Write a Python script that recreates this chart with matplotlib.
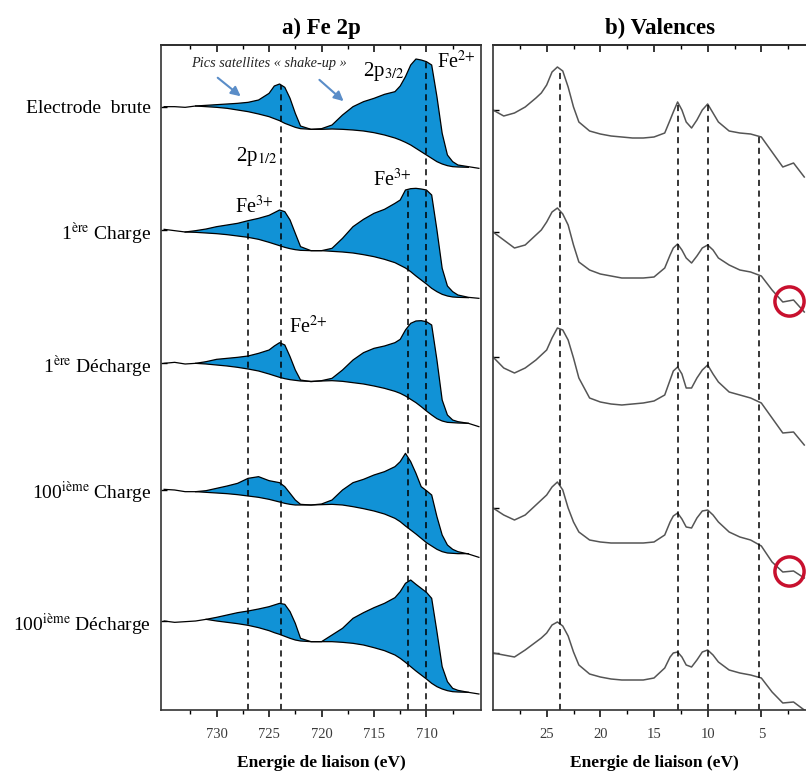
import numpy as np
import matplotlib
matplotlib.use("Agg")
import matplotlib.pyplot as plt
from matplotlib.ticker import FixedLocator

nan = np.nan

# ---- a) Fe 2p : binding energies (eV) and intensities (a.u., relative to each left tail)
FE_E = [735, 734, 733, 732, 731, 730, 729, 728, 727, 726,
        725, 724.5, 724, 723.5, 723, 722.5, 722,
        721, 720, 719, 718, 717, 716, 715, 714, 713,
        712.5, 712, 711.5, 711, 710.5, 710, 709.5, 709, 708.5, 708, 707.5, 707, 706, 705]

fe_brute = [0, 0, -2, 2, 4, 6, 8, 10, 13, 20,
            40, 62, 68, 58, 25, -20, -58,
            -68, -66, -55, -25, 0, 15, 25, 37, 45,
            62, 90, 125, 143, 140, 135, 125, 30, -80, -145, -165, -175, -180, -185]
bg_brute = [nan, nan, nan, 2, 0, -2, -5, -10, -15, -22,
            -30, -36, -42, -50, -56, -62, -66,
            -68, -68, -67, -68, -70, -73, -78, -85, -94,
            -100, -107, -115, -125, -135, -145, -155, -165, -172, -177, -180, -181, -182, nan]

fe_ch1 = [2, -2, -6, -2, 3, 10, 15, 20, 28, 35,
          44, 52, 60, 55, 30, -10, -50,
          -62, -62, -55, -25, 10, 32, 50, 62, 80,
          90, 120, 124, 125, 123, 120, 105, 0, -115, -168, -185, -195, -202, -205]
bg_ch1 = [nan, nan, -6, -7, -9, -11, -14, -18, -22, -28,
          -37, -42, -47, -52, -56, -59, -61,
          -62, -62, -64, -66, -69, -74, -80, -88, -98,
          -106, -114, -125, -138, -150, -162, -175, -185, -193, -198, -201, -202, -203, nan]

fe_dc1 = [0, 3, -2, 0, 5, 12, 15, 18, 22, 30,
          40, 52, 62, 55, 20, -20, -50,
          -55, -52, -45, -20, 10, 32, 45, 52, 62,
          72, 100, 120, 127, 128, 125, 115, 10, -110, -155, -170, -175, -180, -190]
bg_dc1 = [nan, nan, nan, 0, -2, -5, -8, -12, -17, -23,
          -32, -37, -42, -46, -49, -51, -53,
          -54, -53, -52, -54, -58, -62, -68, -75, -84,
          -90, -98, -108, -118, -130, -143, -155, -166, -173, -177, -178, -179, -180, nan]

fe_ch100 = [2, 0, -5, -5, -2, 5, 12, 20, 35, 40,
            28, 25, 22, 10, -10, -30, -43,
            -45, -42, -30, 0, 22, 32, 45, 55, 70,
            85, 110, 85, 50, 10, -2, -15, -80, -135, -165, -178, -185, -192, -202]
bg_ch100 = [nan, nan, nan, -5, -7, -9, -11, -14, -18, -22,
            -28, -32, -36, -40, -43, -45, -45,
            -45, -44, -43, -45, -50, -56, -63, -72, -85,
            -95, -108, -120, -132, -145, -158, -168, -178, -185, -189, -190, -191, -191, nan]

fe_dc100 = [0, -4, -2, 0, 5, 11, 18, 25, 30, 36,
            43, 48, 53, 50, 28, -7, -52,
            -62, -62, -42, -22, 8, 25, 40, 53, 70,
            88, 113, 123, 110, 98, 86, 68, -32, -137, -182, -202, -208, -214, -219]
bg_dc100 = [nan, nan, nan, nan, 5, 0, -4, -8, -13, -20,
            -29, -35, -40, -46, -52, -57, -60,
            -62, -62, -62, -64, -67, -72, -80, -89, -102,
            -112, -124, -137, -150, -162, -174, -187, -197, -204, -209, -212, -213, -214, nan]

FE_SIGNALS = [fe_brute, fe_ch1, fe_dc1, fe_ch100, fe_dc100]
FE_BACKGROUNDS = [bg_brute, bg_ch1, bg_dc1, bg_ch100, bg_dc100]
FE_OFFSETS = [1810, 1440, 1040, 660, 267]

SAMPLE_LABELS = ["Electrode  brute",
                 r"1$^{\mathrm{ère}}$ Charge",
                 r"1$^{\mathrm{ère}}$ Décharge",
                 r"100$^{\mathrm{ième}}$ Charge",
                 r"100$^{\mathrm{ième}}$ Décharge"]

# dashed reference lines: (energy, index of spectrum the line starts from)
FE_LINES = [(723.9, 0), (710.0, 0), (727.0, 1), (711.8, 1)]

# ---- b) Valences
VAL_E = [30, 29, 28, 27, 26, 25.5, 25, 24.5, 24, 23.5, 23, 22.5, 22,
         21, 20, 19, 18, 17, 16, 15, 14,
         13.5, 13.2, 12.8, 12.4, 12, 11.5, 11, 10.5, 10, 9.5, 9,
         8, 7, 6, 5, 4, 3, 2, 1]

val_brute = [0, -6, -3, 3, 12, 17, 25, 38, 43, 39, 23, 3, -12,
             -21, -24, -26, -27, -28, -28, -27, -23,
             -10, -2, 8, 0, -12, -18, -10, 0, 6, -3, -12,
             -21, -23, -24, -27, -42, -57, -53, -67]
val_ch1 = [0, -8, -16, -13, -3, 2, 10, 20, 24, 18, 7, -13, -30,
           -38, -42, -44, -46, -46, -46, -45, -36,
           -23, -16, -12, -18, -26, -31, -24, -16, -13, -18, -26,
           -33, -38, -40, -44, -58, -70, -68, -80]
val_dc1 = [0, -11, -16, -11, -3, 2, 7, 19, 29, 27, 17, -1, -21,
           -41, -45, -47, -48, -47, -46, -44, -38,
           -23, -14, -10, -17, -31, -31, -21, -13, -8, -17, -25,
           -35, -38, -41, -46, -61, -76, -75, -88]
val_ch100 = [0, -7, -12, -7, 3, 8, 13, 21, 26, 18, 0, -14, -24,
             -32, -34, -35, -35, -35, -35, -34, -27,
             -14, -8, -5, -11, -19, -20, -10, -3, -2, -7, -14,
             -24, -29, -32, -38, -54, -64, -63, -70]
val_dc100 = [0, -2, -4, 3, 11, 15, 20, 28, 31, 27, 17, 1, -12,
             -21, -24, -26, -27, -27, -27, -25, -15,
             -4, 0, 1, -4, -12, -14, -7, 1, 3, -2, -9,
             -17, -20, -22, -25, -39, -50, -49, -57]

VAL_SPECTRA = [val_brute, val_ch1, val_dc1, val_ch100, val_dc100]
VAL_OFFSETS = [600, 478, 353, 202, 57]
VAL_LINES = [23.8, 12.8, 10.0, 5.2]
CIRCLE_E = 2.4
CIRCLED = [1, 3]

FILL = "#1192d6"
ARROW = "#5a8dc8"

plt.rcParams["font.family"] = ["Liberation Serif", "DejaVu Serif"]
plt.rcParams["mathtext.fontset"] = "stix"

fig = plt.figure(figsize=(8.06, 7.71), dpi=100)
ax1 = fig.add_axes([161 / 806, 61 / 771, 320 / 806, 665 / 771])
ax2 = fig.add_axes([493 / 806, 61 / 771, 322 / 806, 665 / 771])

e_fe = np.array(FE_E)
for sig, bg, off in zip(FE_SIGNALS, FE_BACKGROUNDS, FE_OFFSETS):
    s = np.array(sig, dtype=float) + off
    b = np.array(bg, dtype=float) + off
    ax1.fill_between(e_fe, b, s, where=s > b, interpolate=True, color=FILL, lw=0)
    ax1.plot(e_fe, s, color="black", lw=0.9, solid_joinstyle="round")
    ax1.plot(e_fe, b, color="black", lw=0.9, solid_joinstyle="round")

for energy, idx in FE_LINES:
    top = np.interp(energy, e_fe[::-1], (np.array(FE_SIGNALS[idx]) + FE_OFFSETS[idx])[::-1])
    ax1.vlines(energy, 0, top, colors="black", linestyles=(0, (4, 3)), lw=1.1)

e_val = np.array(VAL_E)
for spec, off in zip(VAL_SPECTRA, VAL_OFFSETS):
    ax2.plot(e_val, np.array(spec) + off, color="#555555", lw=1.1, solid_joinstyle="round")

for energy in VAL_LINES:
    top = np.interp(energy, e_val[::-1], (np.array(val_brute) + VAL_OFFSETS[0])[::-1])
    ax2.vlines(energy, 0, top, colors="black", linestyles=(0, (4, 3)), lw=1.1)

for idx in CIRCLED:
    yc = np.interp(CIRCLE_E, e_val[::-1], (np.array(VAL_SPECTRA[idx]) + VAL_OFFSETS[idx])[::-1])
    ax2.plot(CIRCLE_E, yc, "o", ms=21, mfc="none", mec="#c8102e", mew=2.5, clip_on=False)

# annotations on panel a
ax1.text(732.4, 1941, "Pics satellites « shake-up »", style="italic", fontsize=10.3,
         ha="left", va="center", color="#222222")
ax1.annotate("", xy=(727.5, 1836), xytext=(730.1, 1902),
             arrowprops=dict(arrowstyle="-|>", color=ARROW, lw=1.5, mutation_scale=14))
ax1.annotate("", xy=(717.7, 1821), xytext=(720.4, 1896),
             arrowprops=dict(arrowstyle="-|>", color=ARROW, lw=1.5, mutation_scale=14))
ax1.text(714.05, 1915, r"2p$_{3/2}$", fontsize=15, ha="center", va="center")
ax1.text(707.2, 1944, r"Fe$^{2{+}}$", fontsize=14.5, ha="center", va="center")
ax1.text(726.2, 1662, r"2p$_{1/2}$", fontsize=15, ha="center", va="center")
ax1.text(713.3, 1590, r"Fe$^{3{+}}$", fontsize=14.5, ha="center", va="center")
ax1.text(726.4, 1509, r"Fe$^{3{+}}$", fontsize=14.5, ha="center", va="center")
ax1.text(721.3, 1149, r"Fe$^{2{+}}$", fontsize=14.5, ha="center", va="center")

# axes styling
ax1.set_xlim(735.3, 704.8)
ax2.set_xlim(30, 0)
ax1.set_ylim(0, 1995)
ax2.set_ylim(0, 665)

for ax, majors, minors in [(ax1, [730, 725, 720, 715, 710], [732.5, 727.5, 722.5, 717.5, 712.5, 707.5]),
                           (ax2, [25, 20, 15, 10, 5], [27.5, 22.5, 17.5, 12.5, 7.5, 2.5])]:
    ax.xaxis.set_major_locator(FixedLocator(majors))
    ax.xaxis.set_minor_locator(FixedLocator(minors))
    ax.tick_params(axis="x", which="major", direction="out", length=5, width=1.1,
                   labelsize=10.5, labelcolor="#3a3a3a", pad=8)
    ax.tick_params(axis="x", which="minor", direction="out", length=3, width=1.0)
    ax.tick_params(axis="y", which="both", direction="in", length=4, width=1.0)
    top = ax.secondary_xaxis("top")
    top.xaxis.set_major_locator(FixedLocator(majors))
    top.xaxis.set_minor_locator(FixedLocator(minors))
    top.tick_params(which="major", direction="in", length=5, width=1.1, labeltop=False)
    top.tick_params(which="minor", direction="in", length=3, width=1.0)
    top.spines["top"].set_linewidth(1.2)
    for sp in ax.spines.values():
        sp.set_linewidth(1.2)
        sp.set_color("#333333")
    ax.set_xlabel("Energie de liaison (eV)", fontsize=12.5, fontweight="bold", labelpad=10)

ax1.set_yticks(FE_OFFSETS)
ax1.set_yticklabels(SAMPLE_LABELS, fontsize=14)
ax1.tick_params(axis="y", pad=7)
ax2.set_yticks(VAL_OFFSETS)
ax2.set_yticklabels([])
ax2.spines["right"].set_visible(False)

ax1.set_title("a) Fe 2p", fontsize=16.5, fontweight="bold", pad=8)
ax2.set_title("b) Valences", fontsize=16.5, fontweight="bold", pad=8, x=0.52)

fig.savefig("out.png", dpi=100)
